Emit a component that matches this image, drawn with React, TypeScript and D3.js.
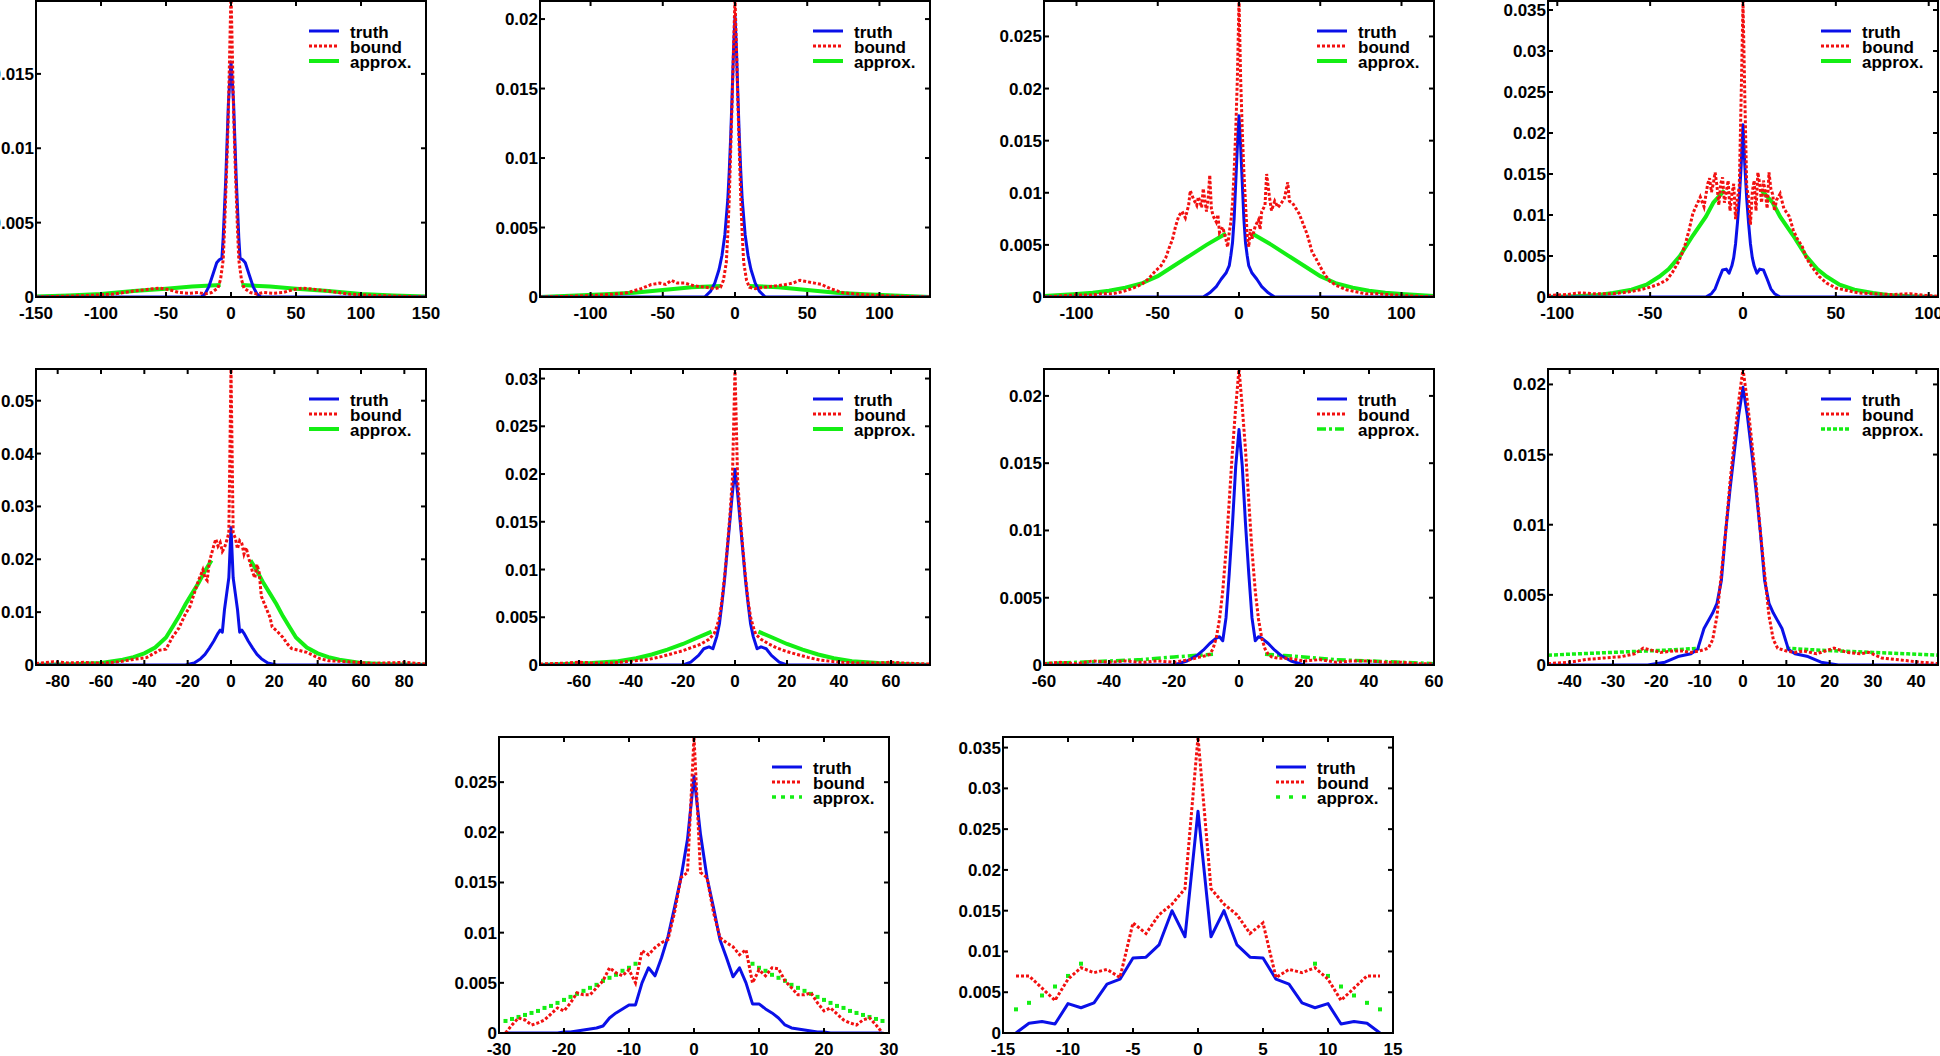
import React from "react";
import * as d3 from "d3";

type Pt = [number, number | null];

// ---- panel 1 ----
const p1XTicks = [-150, -100, -50, 0, 50, 100, 150];
const p1YTicks = [0, 0.005, 0.01, 0.015];
const p1Truth: Pt[] = [[-150, 0], [-23, 0], [-20, 0.0002], [-17, 0.0007], [-14, 0.0015], [-11, 0.0023], [-9, 0.0025], [-7, 0.0026], [-6, 0.004], [-5, 0.006], [-4, 0.008], [-3, 0.0105], [-2, 0.013], [-1, 0.0145], [0, 0.0158], [1, 0.0145], [2, 0.013], [3, 0.0105], [4, 0.008], [5, 0.006], [6, 0.004], [7, 0.0026], [9, 0.0025], [11, 0.0023], [14, 0.0015], [17, 0.0007], [20, 0.0002], [23, 0], [150, 0]];
const p1Bound: Pt[] = [[-150, 0], [-130, 0.00005], [-110, 0.0001], [-90, 0.0002], [-75, 0.0004], [-65, 0.0005], [-55, 0.0006], [-48, 0.0005], [-40, 0.0003], [-32, 0.00025], [-25, 0.0003], [-20, 0.0002], [-15, 0.0003], [-10, 0.0006], [-8, 0.0012], [-6, 0.0025], [-5, 0.0045], [-4, 0.007], [-3, 0.0095], [-2, 0.0125], [-1, 0.0165], [0, 0.0205], [1, 0.0165], [2, 0.0125], [3, 0.0095], [4, 0.007], [5, 0.0045], [6, 0.0025], [8, 0.0012], [10, 0.0006], [15, 0.0003], [20, 0.0002], [25, 0.0003], [32, 0.00025], [40, 0.0003], [48, 0.0005], [55, 0.0006], [65, 0.0005], [75, 0.0004], [90, 0.0002], [110, 0.0001], [130, 0.00005], [150, 0]];
const p1Approx: Pt[] = [[-150, 0.00003], [-125, 0.0001], [-100, 0.0002], [-75, 0.0004], [-50, 0.00055], [-30, 0.0007], [-8, 0.0008], [0, null], [8, 0.0008], [30, 0.0007], [50, 0.00055], [75, 0.0004], [100, 0.0002], [125, 0.0001], [150, 0.00003]];

// ---- panel 2 ----
const p2XTicks = [-100, -50, 0, 50, 100];
const p2YTicks = [0, 0.005, 0.01, 0.015, 0.02];
const p2Truth: Pt[] = [[-135, 0], [-21, 0], [-17, 0.0004], [-14, 0.001], [-11, 0.002], [-9, 0.003], [-7, 0.0045], [-5, 0.007], [-4, 0.009], [-3, 0.0115], [-2, 0.0145], [-1, 0.0178], [0, 0.0202], [1, 0.0178], [2, 0.0145], [3, 0.0115], [4, 0.009], [5, 0.007], [7, 0.0045], [9, 0.003], [11, 0.002], [14, 0.001], [17, 0.0004], [21, 0], [135, 0]];
const p2Bound: Pt[] = [[-135, 0], [-115, 0.00005], [-100, 0.0001], [-85, 0.0002], [-75, 0.0003], [-65, 0.0006], [-58, 0.0009], [-52, 0.001], [-48, 0.0009], [-44, 0.0012], [-40, 0.001], [-35, 0.001], [-28, 0.0008], [-20, 0.0007], [-14, 0.0006], [-10, 0.0007], [-8, 0.0012], [-6, 0.0025], [-5, 0.0045], [-4, 0.007], [-3, 0.0105], [-2, 0.014], [-1, 0.018], [0, 0.0215], [1, 0.018], [2, 0.014], [3, 0.0105], [4, 0.007], [5, 0.0045], [6, 0.0025], [8, 0.0012], [10, 0.0007], [14, 0.0006], [20, 0.0007], [28, 0.0008], [35, 0.0009], [40, 0.001], [45, 0.0012], [50, 0.0011], [55, 0.001], [60, 0.0009], [66, 0.0006], [75, 0.0003], [85, 0.0002], [100, 0.0001], [115, 0.00005], [135, 0]];
const p2Approx: Pt[] = [[-135, 0], [-110, 0.0001], [-90, 0.0002], [-70, 0.0003], [-50, 0.0005], [-30, 0.0007], [-10, 0.0008], [0, null], [10, 0.0008], [30, 0.0007], [50, 0.0005], [70, 0.0003], [90, 0.0002], [110, 0.0001], [135, 0]];

// ---- panel 3 ----
const p3XTicks = [-100, -50, 0, 50, 100];
const p3YTicks = [0, 0.005, 0.01, 0.015, 0.02, 0.025];
const p3Truth: Pt[] = [[-120, 0], [-22, 0], [-18, 0.0004], [-14, 0.001], [-11, 0.0017], [-8, 0.0023], [-6, 0.003], [-5, 0.004], [-4, 0.0052], [-3, 0.0075], [-2, 0.011], [-1, 0.0145], [0, 0.0174], [1, 0.0145], [2, 0.011], [3, 0.0075], [4, 0.0052], [5, 0.004], [6, 0.003], [8, 0.0023], [11, 0.0017], [14, 0.001], [18, 0.0004], [22, 0], [120, 0]];
const p3Bound: Pt[] = [[-120, 0], [-110, 0.0001], [-100, 0.0002], [-90, 0.0002], [-85, 0.0003], [-78, 0.0003], [-72, 0.0005], [-66, 0.0008], [-60, 0.0012], [-56, 0.0017], [-52, 0.0024], [-48, 0.003], [-45, 0.0038], [-43, 0.0047], [-41, 0.0055], [-39, 0.0068], [-37, 0.0078], [-35, 0.0082], [-33, 0.0076], [-31, 0.0088], [-30, 0.0102], [-28, 0.0094], [-26, 0.0088], [-25, 0.0096], [-23, 0.0086], [-22, 0.0104], [-20, 0.0082], [-19, 0.0094], [-18, 0.0117], [-17, 0.0085], [-16, 0.0078], [-14, 0.0072], [-13, 0.0079], [-12, 0.0062], [-10, 0.0067], [-8, 0.0055], [-7, 0.0048], [-6, 0.0062], [-5, 0.0072], [-4, 0.009], [-3, 0.012], [-2, 0.016], [-1, 0.021], [0, 0.0285], [1, 0.021], [2, 0.016], [3, 0.012], [4, 0.009], [5, 0.006], [6, 0.0048], [7, 0.0065], [8, 0.0056], [10, 0.0068], [12, 0.0074], [13, 0.0065], [14, 0.0082], [16, 0.0088], [17, 0.0118], [19, 0.0093], [20, 0.0083], [22, 0.0092], [24, 0.0086], [26, 0.009], [28, 0.0095], [30, 0.011], [31, 0.0092], [33, 0.009], [35, 0.0085], [37, 0.008], [40, 0.0068], [42, 0.006], [45, 0.0043], [47, 0.0038], [50, 0.0029], [53, 0.0021], [56, 0.0015], [60, 0.0011], [66, 0.0007], [72, 0.0005], [78, 0.0003], [85, 0.0003], [95, 0.0002], [105, 0.0001], [120, 0]];
const p3Approx: Pt[] = [[-120, 0.0001], [-110, 0.0002], [-100, 0.0003], [-90, 0.0004], [-80, 0.0006], [-70, 0.0009], [-60, 0.0013], [-50, 0.002], [-40, 0.003], [-30, 0.004], [-20, 0.005], [-8, 0.0061], [0, null], [8, 0.0061], [20, 0.005], [30, 0.004], [40, 0.003], [50, 0.002], [60, 0.0013], [70, 0.0009], [80, 0.0006], [90, 0.0004], [100, 0.0003], [110, 0.0002], [120, 0.0001]];

// ---- panel 4 ----
const p4XTicks = [-100, -50, 0, 50, 100];
const p4YTicks = [0, 0.005, 0.01, 0.015, 0.02, 0.025, 0.03, 0.035];
const p4Truth: Pt[] = [[-105, 0], [-20, 0], [-17, 0.0004], [-15, 0.001], [-13, 0.0022], [-11, 0.0033], [-9, 0.0034], [-7.5, 0.0029], [-6, 0.0038], [-5, 0.0048], [-4, 0.0065], [-3, 0.009], [-2, 0.012], [-1, 0.016], [0, 0.021], [1, 0.016], [2, 0.012], [3, 0.009], [4, 0.0065], [5, 0.0048], [6, 0.0038], [7.5, 0.0029], [9, 0.0034], [11, 0.0033], [13, 0.0022], [15, 0.001], [17, 0.0004], [20, 0], [105, 0]];
const p4Bound: Pt[] = [[-105, 0.0002], [-95, 0.0003], [-88, 0.0005], [-80, 0.0004], [-70, 0.0004], [-62, 0.0006], [-55, 0.0009], [-50, 0.0012], [-45, 0.0016], [-41, 0.0021], [-38, 0.003], [-35, 0.0042], [-33, 0.0052], [-31, 0.0065], [-29, 0.0082], [-27, 0.0102], [-25, 0.0112], [-23, 0.0122], [-21, 0.011], [-19, 0.0138], [-18, 0.0145], [-17, 0.0128], [-16, 0.0138], [-15, 0.0152], [-14, 0.0135], [-13, 0.0112], [-12, 0.0138], [-11, 0.0146], [-10, 0.0115], [-9, 0.0128], [-8, 0.0142], [-7, 0.0105], [-6, 0.0125], [-5, 0.0138], [-4, 0.0095], [-3, 0.012], [-2, 0.0135], [-1, 0.0242], [0, 0.0361], [1, 0.0242], [2, 0.0135], [3, 0.012], [4, 0.0088], [5, 0.0128], [6, 0.0142], [7, 0.0105], [8, 0.0152], [9, 0.0138], [10, 0.0115], [11, 0.0142], [12, 0.0128], [13, 0.0108], [14, 0.0152], [15, 0.0132], [16, 0.0125], [17, 0.0105], [18, 0.0118], [19, 0.0122], [20, 0.0126], [22, 0.0108], [25, 0.0098], [27, 0.0082], [29, 0.0072], [32, 0.0061], [34, 0.0048], [37, 0.0037], [41, 0.0025], [45, 0.0017], [50, 0.0011], [56, 0.0008], [62, 0.0005], [70, 0.0004], [80, 0.0003], [90, 0.0004], [98, 0.0002], [105, 0.0001]];
const p4Approx: Pt[] = [[-105, 0], [-90, 0.0001], [-80, 0.0002], [-70, 0.0005], [-60, 0.0009], [-52, 0.0015], [-45, 0.0025], [-40, 0.0034], [-34, 0.005], [-27, 0.0075], [-20, 0.0098], [-16, 0.0115], [-10, 0.013], [0, null], [10, 0.013], [16, 0.0115], [20, 0.0098], [27, 0.0075], [34, 0.005], [40, 0.0034], [45, 0.0025], [52, 0.0015], [60, 0.0009], [70, 0.0005], [80, 0.0002], [90, 0.0001], [105, 0]];

// ---- panel 5 ----
const p5XTicks = [-80, -60, -40, -20, 0, 20, 40, 60, 80];
const p5YTicks = [0, 0.01, 0.02, 0.03, 0.04, 0.05];
const p5Truth: Pt[] = [[-90, 0], [-21, 0], [-17, 0.0004], [-14, 0.0012], [-12, 0.002], [-10, 0.0032], [-8, 0.0045], [-6, 0.006], [-5, 0.0066], [-4, 0.0062], [-3, 0.0105], [-2, 0.0135], [-1, 0.0165], [0, 0.026], [1, 0.0165], [2, 0.0135], [3, 0.0105], [4, 0.0062], [5, 0.0066], [6, 0.006], [8, 0.0045], [10, 0.0032], [12, 0.002], [14, 0.0012], [17, 0.0004], [21, 0], [90, 0]];
const p5Bound: Pt[] = [[-90, 0.0003], [-82, 0.0006], [-75, 0.0004], [-68, 0.0005], [-60, 0.0003], [-52, 0.0006], [-46, 0.001], [-39, 0.0014], [-33, 0.0028], [-30, 0.003], [-27, 0.0053], [-24, 0.007], [-21, 0.0097], [-19, 0.011], [-17, 0.0135], [-15, 0.016], [-13, 0.018], [-12, 0.0165], [-11, 0.016], [-10, 0.0195], [-9, 0.021], [-8, 0.0225], [-7, 0.0238], [-6, 0.0225], [-5, 0.0232], [-4, 0.0215], [-3, 0.0222], [-2, 0.0235], [-1, 0.025], [0, 0.056], [1, 0.025], [2, 0.024], [3, 0.022], [4, 0.0235], [5, 0.023], [6, 0.021], [7, 0.0222], [8, 0.0205], [9, 0.019], [10, 0.0175], [11, 0.0165], [12, 0.019], [13, 0.0175], [14, 0.013], [16, 0.011], [18, 0.009], [19, 0.0072], [21, 0.0065], [24, 0.0052], [26, 0.004], [28, 0.0031], [31, 0.0028], [35, 0.0024], [38, 0.0018], [41, 0.0012], [45, 0.0008], [50, 0.0007], [58, 0.0005], [65, 0.0003], [72, 0.0004], [80, 0.0005], [86, 0.0003], [90, 0.0002]];
const p5Approx: Pt[] = [[-90, 0.00005], [-80, 0.0001], [-70, 0.0002], [-60, 0.0004], [-50, 0.001], [-45, 0.0015], [-40, 0.0022], [-35, 0.0033], [-30, 0.0052], [-27, 0.0072], [-24, 0.0092], [-21, 0.0115], [-18, 0.0135], [-15, 0.0155], [-12, 0.0178], [-9, 0.0198], [0, null], [9, 0.0198], [12, 0.0178], [15, 0.0155], [18, 0.0135], [21, 0.0115], [24, 0.0092], [27, 0.0072], [30, 0.0052], [35, 0.0033], [40, 0.0022], [45, 0.0015], [50, 0.001], [60, 0.0004], [70, 0.0002], [80, 0.0001], [90, 0.00005]];

// ---- panel 6 ----
const p6XTicks = [-60, -40, -20, 0, 20, 40, 60];
const p6YTicks = [0, 0.005, 0.01, 0.015, 0.02, 0.025, 0.03];
const p6Truth: Pt[] = [[-75, 0], [-20, 0], [-17, 0.0003], [-14, 0.001], [-12, 0.0017], [-10, 0.0019], [-8.5, 0.0017], [-7, 0.003], [-6, 0.0043], [-5, 0.0065], [-4, 0.009], [-3, 0.012], [-2, 0.015], [-1, 0.018], [0, 0.0205], [1, 0.018], [2, 0.015], [3, 0.012], [4, 0.009], [5, 0.0065], [6, 0.0043], [7, 0.003], [8.5, 0.0017], [10, 0.0019], [12, 0.0017], [14, 0.001], [17, 0.0003], [20, 0], [75, 0]];
const p6Bound: Pt[] = [[-75, 0.0001], [-65, 0.0002], [-60, 0.0003], [-55, 0.0002], [-48, 0.0002], [-40, 0.0004], [-33, 0.0006], [-28, 0.0009], [-24, 0.0012], [-20, 0.0015], [-16, 0.0019], [-13, 0.0022], [-10, 0.0027], [-8, 0.0033], [-7, 0.004], [-6, 0.005], [-5, 0.0068], [-4, 0.0093], [-3, 0.0122], [-2, 0.0155], [-1, 0.0195], [0, 0.031], [1, 0.0195], [2, 0.0155], [3, 0.0122], [4, 0.0093], [5, 0.0068], [6, 0.005], [7, 0.004], [8, 0.0032], [10, 0.0027], [13, 0.0022], [16, 0.0018], [20, 0.0014], [24, 0.0011], [28, 0.0008], [33, 0.0005], [40, 0.0003], [48, 0.0002], [55, 0.0002], [60, 0.0003], [65, 0.0002], [75, 0.0001]];
const p6Approx: Pt[] = [[-75, 0], [-65, 0.0001], [-55, 0.0002], [-45, 0.0004], [-38, 0.0007], [-32, 0.0011], [-26, 0.0016], [-20, 0.0022], [-15, 0.0028], [-9, 0.0035], [0, null], [9, 0.0035], [15, 0.0028], [20, 0.0022], [26, 0.0016], [32, 0.0011], [38, 0.0007], [45, 0.0004], [55, 0.0002], [65, 0.0001], [75, 0]];

// ---- panel 7 ----
const p7XTicks = [-60, -40, -20, 0, 20, 40, 60];
const p7YTicks = [0, 0.005, 0.01, 0.015, 0.02];
const p7Truth: Pt[] = [[-60, 0], [-20, 0], [-16, 0.0003], [-13, 0.0007], [-11, 0.0011], [-9, 0.0016], [-7, 0.002], [-6, 0.0021], [-5, 0.0018], [-4, 0.0035], [-3, 0.0068], [-2, 0.0105], [-1, 0.0148], [0, 0.0175], [1, 0.0148], [2, 0.0105], [3, 0.0068], [4, 0.0035], [5, 0.0018], [6, 0.0021], [7, 0.002], [9, 0.0016], [11, 0.0011], [13, 0.0007], [16, 0.0003], [20, 0], [60, 0]];
const p7Bound: Pt[] = [[-60, 0.0001], [-55, 0.0002], [-50, 0.0001], [-45, 0.0003], [-40, 0.0002], [-35, 0.0003], [-30, 0.0002], [-25, 0.0003], [-20, 0.0002], [-15, 0.0004], [-12, 0.0006], [-10, 0.0007], [-9, 0.0008], [-8, 0.0012], [-7, 0.002], [-6, 0.0034], [-5, 0.0055], [-4, 0.0085], [-3, 0.0122], [-2, 0.016], [-1, 0.0192], [0, 0.022], [1, 0.0192], [2, 0.016], [3, 0.0122], [4, 0.0085], [5, 0.0055], [6, 0.0034], [7, 0.002], [8, 0.0012], [9, 0.0008], [10, 0.0006], [12, 0.0005], [15, 0.0005], [20, 0.0003], [25, 0.0004], [30, 0.0002], [35, 0.0003], [40, 0.0003], [45, 0.0002], [50, 0.0002], [55, 0.0001], [60, 0.0001]];
const p7Approx: Pt[] = [[-60, 0.0001], [-50, 0.0002], [-40, 0.0003], [-30, 0.0004], [-20, 0.0006], [-14, 0.0007], [-8, 0.0008], [0, null], [8, 0.0008], [14, 0.0007], [20, 0.0006], [30, 0.0004], [40, 0.0003], [50, 0.0002], [60, 0.0001]];

// ---- panel 8 ----
const p8XTicks = [-40, -30, -20, -10, 0, 10, 20, 30, 40];
const p8YTicks = [0, 0.005, 0.01, 0.015, 0.02];
const p8Truth: Pt[] = [[-45, 0], [-22, 0], [-18, 0.0002], [-15, 0.0006], [-12, 0.0008], [-10.5, 0.0011], [-9, 0.0026], [-7, 0.0037], [-6, 0.0044], [-5, 0.006], [-4, 0.0095], [-3, 0.0125], [-2, 0.0152], [-1, 0.0178], [0, 0.0198], [1, 0.0178], [2, 0.0152], [3, 0.0125], [4, 0.0095], [5, 0.006], [6, 0.0044], [7, 0.0037], [9, 0.0026], [10.5, 0.0011], [12, 0.0008], [15, 0.0006], [18, 0.0002], [22, 0], [45, 0]];
const p8Bound: Pt[] = [[-45, 0.0001], [-40, 0.0002], [-36, 0.0004], [-32, 0.0005], [-28, 0.0006], [-25, 0.0008], [-23, 0.0012], [-19, 0.0009], [-16, 0.001], [-14, 0.001], [-12, 0.0009], [-10, 0.001], [-8, 0.0012], [-7, 0.0018], [-6, 0.0035], [-5, 0.0065], [-4, 0.0095], [-3, 0.013], [-2, 0.016], [-1, 0.0188], [0, 0.0211], [1, 0.0188], [2, 0.016], [3, 0.013], [4, 0.0095], [5, 0.0065], [6, 0.0035], [7, 0.0018], [8, 0.0012], [10, 0.001], [12, 0.0009], [14, 0.001], [17, 0.0008], [19, 0.001], [21, 0.0012], [24, 0.0009], [27, 0.0008], [29, 0.0009], [32, 0.0005], [35, 0.0004], [38, 0.0003], [41, 0.0002], [45, 0.0001]];
const p8Approx: Pt[] = [[-45, 0.0007], [-38, 0.0008], [-30, 0.0009], [-22, 0.001], [-15, 0.0011], [-10, 0.0012], [0, null], [10, 0.0012], [15, 0.0011], [22, 0.001], [30, 0.0009], [38, 0.0008], [45, 0.0007]];

// ---- panel 9 ----
const p9XTicks = [-30, -20, -10, 0, 10, 20, 30];
const p9YTicks = [0, 0.005, 0.01, 0.015, 0.02, 0.025];
const p9Truth: Pt[] = [[-29, 0], [-21, 0], [-20, 0.0001], [-19, 0.0001], [-18, 0.0002], [-17, 0.0003], [-16, 0.0004], [-15, 0.0005], [-14, 0.0007], [-13, 0.0015], [-12, 0.002], [-11, 0.0024], [-10, 0.0028], [-9, 0.0028], [-8, 0.005], [-7, 0.0065], [-6, 0.0057], [-5, 0.0075], [-4, 0.0096], [-3, 0.0125], [-2, 0.0155], [-1, 0.0193], [0, 0.0256], [1, 0.0198], [2, 0.0155], [3, 0.0125], [4, 0.0093], [5, 0.0075], [6, 0.0056], [7, 0.0065], [8, 0.005], [9, 0.0029], [10, 0.0029], [11, 0.0024], [12, 0.002], [13, 0.0015], [14, 0.0008], [15, 0.0005], [16, 0.0004], [17, 0.0003], [18, 0.0002], [19, 0.0001], [20, 0.0001], [21, 0], [29, 0]];
const p9Bound: Pt[] = [[-29, 0], [-28, 0.0008], [-27, 0.0015], [-26, 0.0013], [-25, 0.0008], [-24, 0.001], [-23, 0.0013], [-22, 0.0019], [-21, 0.0025], [-20, 0.0022], [-19, 0.003], [-18, 0.004], [-17, 0.0038], [-16, 0.0038], [-15, 0.0045], [-14, 0.0052], [-13, 0.0065], [-12, 0.006], [-11, 0.0057], [-10, 0.0063], [-9, 0.005], [-8, 0.0082], [-7, 0.0078], [-6, 0.0085], [-5, 0.009], [-4, 0.0093], [-3, 0.012], [-2, 0.0155], [-1, 0.016], [0, 0.0295], [1, 0.016], [2, 0.0155], [3, 0.012], [4, 0.0095], [5, 0.009], [6, 0.0086], [7, 0.0078], [8, 0.0083], [9, 0.005], [10, 0.0063], [11, 0.0057], [12, 0.0065], [13, 0.0064], [14, 0.0052], [15, 0.0045], [16, 0.0038], [17, 0.0038], [18, 0.004], [19, 0.003], [20, 0.0022], [21, 0.0025], [22, 0.0019], [23, 0.0013], [24, 0.001], [25, 0.0008], [26, 0.0013], [27, 0.0015], [28, 0.0008], [29, 0]];
const p9Approx: Pt[] = [[-29, 0.0012], [-28, 0.0014], [-27, 0.0016], [-26, 0.0018], [-25, 0.002], [-24, 0.0022], [-23, 0.0025], [-22, 0.0027], [-21, 0.003], [-20, 0.0033], [-19, 0.0036], [-18, 0.0039], [-17, 0.0042], [-16, 0.0045], [-15, 0.0048], [-14, 0.0052], [-13, 0.0055], [-12, 0.0058], [-11, 0.0062], [-10, 0.0065], [-9, 0.0069], [9, 0.0069], [10, 0.0065], [11, 0.0062], [12, 0.0058], [13, 0.0055], [14, 0.0052], [15, 0.0048], [16, 0.0045], [17, 0.0042], [18, 0.0039], [19, 0.0036], [20, 0.0033], [21, 0.003], [22, 0.0027], [23, 0.0025], [24, 0.0022], [25, 0.002], [26, 0.0018], [27, 0.0016], [28, 0.0014], [29, 0.0012]];

// ---- panel 10 ----
const p10XTicks = [-15, -10, -5, 0, 5, 10, 15];
const p10YTicks = [0, 0.005, 0.01, 0.015, 0.02, 0.025, 0.03, 0.035];
const p10Truth: Pt[] = [[-14, 0], [-13, 0.0012], [-12, 0.0014], [-11, 0.0011], [-10, 0.0036], [-9, 0.0031], [-8, 0.0037], [-7, 0.006], [-6, 0.0066], [-5, 0.0092], [-4, 0.0093], [-3, 0.0108], [-2, 0.015], [-1, 0.0118], [0, 0.0272], [1, 0.0118], [2, 0.015], [3, 0.0108], [4, 0.0093], [5, 0.0092], [6, 0.0066], [7, 0.006], [8, 0.0037], [9, 0.0031], [10, 0.0036], [11, 0.0011], [12, 0.0014], [13, 0.0012], [14, 0]];
const p10Bound: Pt[] = [[-14, 0.007], [-13, 0.007], [-12, 0.0055], [-11, 0.004], [-10, 0.0066], [-9, 0.008], [-8, 0.0074], [-7, 0.0078], [-6, 0.0068], [-5, 0.0135], [-4, 0.0122], [-3, 0.0145], [-2, 0.0158], [-1, 0.0177], [0, 0.0363], [1, 0.0177], [2, 0.0158], [3, 0.0145], [4, 0.0122], [5, 0.0135], [6, 0.0068], [7, 0.0078], [8, 0.0074], [9, 0.008], [10, 0.0066], [11, 0.004], [12, 0.0055], [13, 0.007], [14, 0.007]];
const p10Approx: Pt[] = [[-14, 0.0029], [-13, 0.0037], [-12, 0.0046], [-11, 0.0057], [-10, 0.007], [-9, 0.0085], [9, 0.0085], [10, 0.007], [11, 0.0057], [12, 0.0046], [13, 0.0037], [14, 0.0029]];

const seriesNames = ["truth", "bound", "approx."];

type ApproxStyle = "solid" | "dashdot" | "dense" | "dots" | "sparse";

type Panel = {
  left: number;
  top: number;
  xDomain: [number, number];
  yMax: number;
  xTicks: number[];
  yTicks: number[];
  truth: Pt[];
  bound: Pt[];
  approx: Pt[];
  approxStyle: ApproxStyle;
};

const W = 390;
const H = 296;
const COLS = [36, 540, 1044, 1548];
const ROWS = [1, 369, 737];

const panels: Panel[] = [
  { left: COLS[0], top: ROWS[0], xDomain: [-150, 150], yMax: 0.0199, xTicks: p1XTicks, yTicks: p1YTicks, truth: p1Truth, bound: p1Bound, approx: p1Approx, approxStyle: "solid" },
  { left: COLS[1], top: ROWS[0], xDomain: [-135, 135], yMax: 0.0213, xTicks: p2XTicks, yTicks: p2YTicks, truth: p2Truth, bound: p2Bound, approx: p2Approx, approxStyle: "solid" },
  { left: COLS[2], top: ROWS[0], xDomain: [-120, 120], yMax: 0.0284, xTicks: p3XTicks, yTicks: p3YTicks, truth: p3Truth, bound: p3Bound, approx: p3Approx, approxStyle: "solid" },
  { left: COLS[3], top: ROWS[0], xDomain: [-105, 105], yMax: 0.0361, xTicks: p4XTicks, yTicks: p4YTicks, truth: p4Truth, bound: p4Bound, approx: p4Approx, approxStyle: "solid" },
  { left: COLS[0], top: ROWS[1], xDomain: [-90, 90], yMax: 0.056, xTicks: p5XTicks, yTicks: p5YTicks, truth: p5Truth, bound: p5Bound, approx: p5Approx, approxStyle: "solid" },
  { left: COLS[1], top: ROWS[1], xDomain: [-75, 75], yMax: 0.031, xTicks: p6XTicks, yTicks: p6YTicks, truth: p6Truth, bound: p6Bound, approx: p6Approx, approxStyle: "solid" },
  { left: COLS[2], top: ROWS[1], xDomain: [-60, 60], yMax: 0.022, xTicks: p7XTicks, yTicks: p7YTicks, truth: p7Truth, bound: p7Bound, approx: p7Approx, approxStyle: "dashdot" },
  { left: COLS[3], top: ROWS[1], xDomain: [-45, 45], yMax: 0.0211, xTicks: p8XTicks, yTicks: p8YTicks, truth: p8Truth, bound: p8Bound, approx: p8Approx, approxStyle: "dense" },
  { left: 499, top: ROWS[2], xDomain: [-30, 30], yMax: 0.0295, xTicks: p9XTicks, yTicks: p9YTicks, truth: p9Truth, bound: p9Bound, approx: p9Approx, approxStyle: "dots" },
  { left: 1003, top: ROWS[2], xDomain: [-15, 15], yMax: 0.0363, xTicks: p10XTicks, yTicks: p10YTicks, truth: p10Truth, bound: p10Bound, approx: p10Approx, approxStyle: "sparse" },
];

const BLUE = "#0a10e8";
const RED = "#f21010";
const GREEN = "#14ee14";
const FONT = "'Liberation Sans Narrow', 'Liberation Sans', Arial, sans-serif";

const approxDash: Record<ApproxStyle, string | undefined> = {
  solid: undefined,
  dashdot: "9,3,3,3",
  dense: "4,2",
  dots: "4,5",
  sparse: "4,9",
};

const fmt = (v: number) => String(+v.toFixed(4));

function Plot({ p, idx }: { p: Panel; idx: number }) {
  const x = d3.scaleLinear().domain(p.xDomain).range([p.left, p.left + W]);
  const y = d3.scaleLinear().domain([0, p.yMax]).range([p.top + H, p.top]);
  const line = d3
    .line<Pt>()
    .defined((d) => d[1] !== null)
    .x((d) => x(d[0]))
    .y((d) => y(d[1] as number));
  const clipId = `clip${idx}`;
  const tk = 5;
  const bottom = p.top + H;
  const right = p.left + W;
  const isDots = p.approxStyle === "dots" || p.approxStyle === "sparse";
  const legX = p.left + 273;
  const legRows = [30, 45, 60].map((d) => p.top + d);

  return (
    <g>
      <defs>
        <clipPath id={clipId}>
          <rect x={p.left} y={p.top} width={W} height={H} />
        </clipPath>
      </defs>
      <g clipPath={`url(#${clipId})`}>
        {isDots ? (
          p.approx.map((d, i) => (
            <rect key={i} x={x(d[0]) - 2} y={y(d[1] as number) - 2} width={4} height={4} fill={GREEN} />
          ))
        ) : (
          <path
            d={line(p.approx) ?? ""}
            fill="none"
            stroke={GREEN}
            strokeWidth={p.approxStyle === "solid" ? 4 : 3.5}
            strokeDasharray={approxDash[p.approxStyle]}
          />
        )}
        <path d={line(p.truth) ?? ""} fill="none" stroke={BLUE} strokeWidth={3} strokeLinejoin="round" />
        <path d={line(p.bound) ?? ""} fill="none" stroke={RED} strokeWidth={3} strokeDasharray="3,2" />
      </g>
      <rect x={p.left} y={p.top} width={W} height={H} fill="none" stroke="#000" strokeWidth={2} />
      {p.xTicks.map((t) => (
        <g key={`x${t}`}>
          <line x1={x(t)} x2={x(t)} y1={bottom} y2={bottom - tk} stroke="#000" strokeWidth={2} />
          <line x1={x(t)} x2={x(t)} y1={p.top} y2={p.top + tk} stroke="#000" strokeWidth={2} />
          <text x={x(t)} y={bottom + 22} textAnchor="middle" fontSize={17} fontWeight="bold" fontFamily={FONT}>
            {fmt(t)}
          </text>
        </g>
      ))}
      {p.yTicks.map((t) => (
        <g key={`y${t}`}>
          <line x1={p.left} x2={p.left + tk} y1={y(t)} y2={y(t)} stroke="#000" strokeWidth={2} />
          <line x1={right} x2={right - tk} y1={y(t)} y2={y(t)} stroke="#000" strokeWidth={2} />
          <text x={p.left - 2} y={y(t) + 6} textAnchor="end" fontSize={17} fontWeight="bold" fontFamily={FONT}>
            {fmt(t)}
          </text>
        </g>
      ))}
      <g>
        <line x1={legX} x2={legX + 30} y1={legRows[0]} y2={legRows[0]} stroke={BLUE} strokeWidth={3} />
        <line x1={legX} x2={legX + 30} y1={legRows[1]} y2={legRows[1]} stroke={RED} strokeWidth={3} strokeDasharray="3,2" />
        <line
          x1={legX}
          x2={legX + 30}
          y1={legRows[2]}
          y2={legRows[2]}
          stroke={GREEN}
          strokeWidth={p.approxStyle === "solid" ? 4 : 3.5}
          strokeDasharray={approxDash[p.approxStyle]}
        />
        {seriesNames.map((s, i) => (
          <text key={s} x={legX + 41} y={legRows[i] + 6.5} fontSize={17} fontWeight="bold" fontFamily={FONT}>
            {s}
          </text>
        ))}
      </g>
    </g>
  );
}

export default function App() {
  return (
    <svg
      width={1940}
      height={1056}
      style={{ position: "absolute", left: 0, top: 0, background: "#fff" }}
    >
      <rect width={1940} height={1056} fill="#fff" />
      {panels.map((p, i) => (
        <Plot key={i} p={p} idx={i} />
      ))}
    </svg>
  );
}
